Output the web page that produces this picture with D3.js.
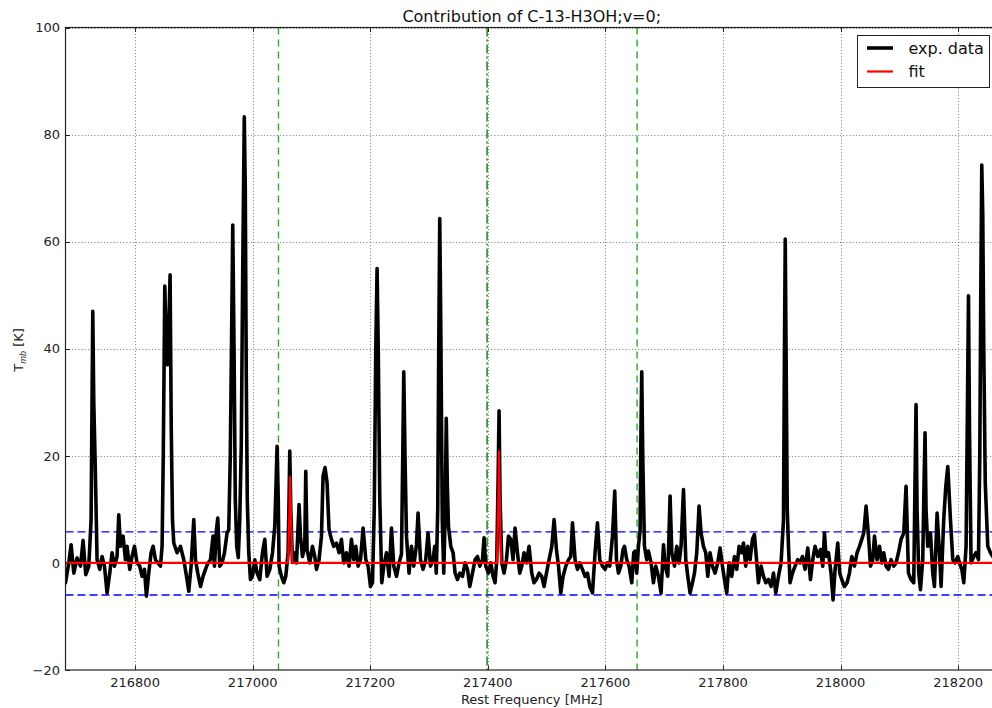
<!DOCTYPE html>
<html>
<head>
<meta charset="utf-8">
<script src="https://cdn.jsdelivr.net/npm/d3@7"></script>
<style>
  html, body { margin: 0; padding: 0; background: #fff; }
  svg { display: block; font-family: "DejaVu Sans", sans-serif; }
</style>
</head>
<body>
<svg id="chart" width="992" height="708"></svg>
<script>
// ---------- data ----------
const title = "Contribution of C-13-H3OH;v=0;";
const xLabel = "Rest Frequency [MHz]";
const xTicks = [216800, 217000, 217200, 217400, 217600, 217800, 218000, 218200];
const yTicks = [-20, 0, 20, 40, 60, 80, 100];
const legendLabels = ["exp. data", "fit"];

const freq = [
216681.6,216687.2,216691.1,216695.7,216701.3,216707.1,216711.5,216716.1,216721.2,216725.1,
216728.0,216729.7,216732.2,216734.0,216735.3,216739.9,216743.8,216747.9,216752.3,216756.9,
216760.8,216764.9,216769.3,216772.2,216775.1,216779.5,216783.6,216786.3,216790.9,216794.8,
216798.9,216803.3,216807.9,216811.8,216815.9,216819.3,216823.2,216827.2,216830.6,216834.6,
216838.5,216843.1,216845.9,216847.9,216850.5,216853.0,216855.1,216857.3,216859.5,216861.5,
216863.6,216865.8,216871.4,216877.2,216882.8,216887.4,216891.3,216895.2,216899.8,216902.7,
216906.6,216911.2,216915.6,216919.7,216923.6,216928.2,216932.6,216935.0,216938.4,216940.6,
216944.0,216947.9,216952.0,216956.4,216959.3,216961.9,216964.4,216966.1,216968.3,216970.4,
216972.9,216975.5,216978.0,216980.6,216983.1,216985.7,216987.4,216989.1,216990.8,216993.3,
216996.2,216999.6,217003.6,217007.5,217012.1,217016.6,217020.6,217024.5,217029.1,217033.7,
217037.6,217039.8,217041.5,217043.5,217044.9,217049.0,217052.9,217056.3,217060.2,217061.9,
217063.1,217064.8,217067.7,217071.6,217074.5,217078.9,217081.3,217084.7,217088.6,217090.3,
217092.5,217097.1,217101.7,217105.6,217108.5,217112.9,217117.0,217119.7,217123.1,217126.5,
217129.9,217134.0,217137.9,217142.5,217147.0,217151.0,217154.9,217159.5,217164.0,217168.0,
217172.0,217175.4,217179.3,217183.4,217187.8,217192.4,217196.3,217200.4,217203.8,217206.8,
217209.4,217211.6,217213.6,217216.2,217219.6,217223.0,217227.6,217232.0,217236.1,217240.0,
217244.6,217249.0,217253.1,217255.3,217257.0,217259.1,217261.6,217266.0,217270.1,217274.0,
217278.6,217281.3,217285.4,217289.8,217294.4,217298.3,217302.4,217306.8,217309.7,217312.3,
217314.8,217316.5,217318.2,217319.9,217322.5,217325.0,217327.6,217329.3,217331.0,217333.0,
217337.0,217340.9,217344.3,217348.4,217352.3,217356.9,217361.3,217365.4,217369.3,217373.9,
217378.3,217382.4,217386.3,217390.9,217393.6,217396.5,217401.1,217405.0,217408.9,217412.3,
217415.2,217417.4,217419.1,217420.8,217423.7,217427.6,217431.7,217435.1,217439.0,217442.9,
217446.3,217450.4,217454.3,217457.7,217461.6,217465.7,217470.1,217474.7,217478.6,217482.7,
217487.2,217491.7,217495.7,217499.7,217504.2,217508.8,217512.7,217516.7,217520.2,217524.1,
217528.0,217532.6,217537.2,217541.1,217544.0,217548.4,217552.5,217556.4,217561.0,217565.4,
217569.5,217573.4,217578.0,217582.4,217586.5,217590.4,217595.0,217599.4,217603.5,217607.4,
217612.0,217615.9,217618.8,217622.2,217626.1,217630.0,217632.4,217636.3,217640.2,217644.8,
217648.2,217650.4,217653.3,217656.2,217659.0,217660.5,217661.8,217663.5,217666.4,217670.3,
217673.2,217677.7,217681.7,217685.7,217690.2,217694.7,217698.8,217701.5,217706.1,217710.0,
217712.9,217717.5,217721.4,217725.3,217728.7,217732.8,217736.7,217740.1,217744.0,217748.1,
217751.5,217755.4,217759.3,217762.7,217766.8,217770.7,217774.1,217778.0,217782.1,217786.5,
217791.1,217795.0,217799.1,217802.5,217806.4,217810.3,217814.9,217819.5,217823.4,217827.3,
217831.9,217834.8,217838.7,217842.1,217846.1,217850.1,217853.5,217857.5,217860.3,217864.8,
217868.9,217872.8,217877.4,217881.8,217885.9,217889.8,217894.4,217898.8,217902.9,217904.6,
217905.9,217907.6,217909.3,217911.4,217914.1,217918.2,217922.6,217927.2,217931.1,217935.2,
217939.6,217944.2,217948.8,217952.7,217956.6,217961.2,217965.8,217969.7,217972.6,217975.3,
217979.4,217983.8,217987.2,217990.7,217995.2,217998.6,218002.0,218006.6,218011.1,218015.1,
218019.1,218023.6,218028.1,218032.2,218036.1,218039.5,218043.4,218047.5,218050.9,218054.8,
218057.7,218062.1,218066.2,218070.1,218073.5,218077.4,218081.5,218085.9,218090.5,218094.4,
218098.5,218102.9,218107.5,218111.4,218115.5,218119.9,218124.5,218126.6,218128.4,218130.1,
218133.0,218135.9,218139.8,218142.0,218143.7,218145.4,218148.3,218152.9,218156.8,218159.7,
218164.2,218168.2,218171.0,218175.5,218179.0,218182.4,218186.9,218190.9,218194.8,218199.4,
218202.3,218206.2,218209.6,218213.5,218215.9,218217.6,218219.3,218222.0,218226.6,218230.5,
218234.6,218236.8,218238.5,218240.2,218241.9,218243.6,218246.1,218250.4,218255.0,218258.9,
218264.0
];
const tmb = [
-3.7,0,3.4,-1.9,0.9,-0.6,4.2,-2.2,-0.6,8,
47,30,18,8,0.6,-1.2,1.2,-0.6,-5.6,-1.9,
1.9,-0.6,1.2,9.0,3.1,5,0.6,3.1,-1.2,1.2,
3.1,0,-0.6,-2.5,-1.2,-6.2,-1.9,1.9,3.1,0.6,
0,-0.6,3.1,20,51.7,40,37,44,53.8,25,
8,3.7,1.9,3.1,0.6,-2.5,-5.3,-0.6,8.1,0.6,
-1.9,-4.4,-2.5,-1.2,-0.1,0.6,5,-0.6,6.2,8.4,
-0.6,0,1.9,5.6,6.2,20,45,63.1,40,12,
3,1,8,22,55,83.3,70,35,12,2,
-3.1,-2.5,0.6,-1.9,-3.1,1.9,4.4,-2.5,-1.2,1.9,
6.9,15,21.8,12,-0.6,-2.5,-3.7,-2.5,1.9,12,
20.9,10,0.1,1.9,0,10.9,5,1.2,3.1,17.1,
2.5,0,3.1,1.2,-1.2,0.6,5,16.2,17.8,15,
6.2,4.4,3.1,3.7,1.9,4.4,0,1.9,-0.6,4.4,
0.6,3.1,-0.6,0.6,6.5,0.6,-0.6,-4.4,-3.7,10,
40,55,40,12,-3.7,-0.6,1.9,-2.5,6.5,-0.6,
-2.5,0,1.6,20,35.7,20,5,-1.9,3.1,-0.6,
3.4,9.3,0.6,-1.2,0.6,5.6,-0.6,0.6,3.1,-1.9,
10,40,64.3,45,8,-1.9,10,27,15,6.9,
3.1,1.9,-1.9,-3.1,-1.9,-2.5,0,-1.2,-4.4,-1.9,
0.6,1.2,-0.6,0.6,4.7,-0.6,-1.9,0,-2.5,-3.7,
0.6,15,28.4,12,0,-1.9,0.6,5,4.4,0.6,
6.5,1.9,-1.9,-0.6,1.9,0,3.1,-1.9,-3.7,-3.1,
-1.9,-2.5,-4.4,-1.9,0.6,3.1,8.1,2.5,-0.6,-5.6,
-2.5,-0.6,0.6,1.2,7.5,0.6,-1.2,0,-1.2,-2.5,
-1.9,-4.4,-5.6,1.9,7.5,0.6,-0.6,-1.2,0,-0.6,
5,13.4,0.6,-1.9,-0.6,2.5,3.1,0.6,-0.6,-3.7,
1.9,2.2,-1.9,3.1,6,25,35.7,20,3.1,0.6,
2.2,0,-3.7,-0.6,-2.5,-5.6,3.4,-0.6,-2.5,12.5,
1.9,-0.6,3.1,0,3.1,13.7,0.6,-2.5,-5.6,-3.7,
-1.9,1.9,10.6,5.6,3.1,1.9,-2.5,1.9,-0.6,-1.9,
0,2.8,-0.6,-3.1,-5.6,0,-2.5,1.2,-1.2,3.1,
1.9,3.7,-0.6,3.1,0.6,4.4,5.3,0,-3.7,-0.6,
-2.5,-3.7,-3.1,-4.4,-1.9,-5.6,-2.5,0,8,40,
60.5,35,10,3.1,-3.7,-1.9,-0.6,0.6,0,1.2,
-1.2,2.8,-3.1,0.6,3.1,1.2,2.5,-0.6,5.6,1.2,
1.9,-1.9,-6.9,-1.2,3.7,-1.9,-3.1,-4.4,-3.7,-1.9,
1.2,-0.6,1.9,3.1,4.4,5.6,10.6,5,-0.6,0.6,
5,0.6,3.1,0,1.9,-0.6,-1.2,0.6,-0.6,0,
1.9,4.4,5.6,14.3,-1.9,-3.1,-3.7,15,29.6,10,
-1.9,-5,0.6,15,24.3,10,3.1,5.6,-1.9,-4.4,
9.3,1.9,-4.4,8.1,14.3,18,8.1,0.6,0,1.2,
0,-1.2,-3.7,3.1,30,49.9,25,0,1.2,1.9,
0.6,20,50,74.3,65,40,15,3.1,1.9,1.2,
0.5
];

const fitFreq = [216681.6, 217060.2, 217062.2, 217063.8, 217065.5, 217067.5,
                 217415.5, 217417.5, 217419.1, 217420.8, 217422.8, 218267.8];
const fitTmb  = [0, 0, 8, 16.1, 8, 0, 0, 9, 20.9, 9, 0, 0];

const hLevels = [5.8, -6.0];                        // blue dashed levels
const vMarkers = [217043.9, 217398.7, 217653.9];    // green markers
const vStyles = ["dash", "dashdot", "dash"];

// ---------- layout ----------
const L = 65.5, R = 998, T = 27.5, B = 670;
const svg = d3.select("#chart");
svg.append("rect").attr("width", 992).attr("height", 708).attr("fill", "#fff");

const x = d3.scaleLinear().domain([216681.6, 218267.8]).range([L, R]);
const y = d3.scaleLinear().domain([-20, 100]).range([B, T]);
const snap = v => Math.round(v) + 0.5;

const defs = svg.append("defs");
defs.append("clipPath").attr("id", "clip")
  .append("rect").attr("x", L).attr("y", T).attr("width", R - L).attr("height", B - T);

const plot = svg.append("g").attr("clip-path", "url(#clip)");

// grid
plot.selectAll(".gx").data(xTicks).enter().append("line")
  .attr("x1", d => snap(x(d))).attr("x2", d => snap(x(d)))
  .attr("y1", T).attr("y2", B)
  .attr("stroke", "#555").attr("stroke-width", 0.8).attr("stroke-dasharray", "1,2.2");
plot.selectAll(".gy").data(yTicks).enter().append("line")
  .attr("y1", d => snap(y(d))).attr("y2", d => snap(y(d)))
  .attr("x1", L).attr("x2", R)
  .attr("stroke", "#555").attr("stroke-width", 0.8).attr("stroke-dasharray", "1,2.2");

// blue dashed levels
plot.selectAll(".hl").data(hLevels).enter().append("line")
  .attr("x1", L).attr("x2", R)
  .attr("y1", d => y(d)).attr("y2", d => y(d))
  .attr("stroke", "#0000ff").attr("stroke-width", 1.4).attr("stroke-dasharray", "8,4");

// green markers
plot.selectAll(".vl").data(vMarkers).enter().append("line")
  .attr("x1", d => x(d)).attr("x2", d => x(d))
  .attr("y1", T).attr("y2", B)
  .attr("stroke", (d, i) => vStyles[i] === "dash" ? "#2ea82e" : "#008000")
  .attr("stroke-width", 1.4)
  .attr("stroke-dasharray", (d, i) => vStyles[i] === "dash" ? "7,5" : "9,3,2,3");

// data line
const line = d3.line().x(d => x(d[0])).y(d => y(d[1]));
plot.append("path")
  .datum(freq.map((f, i) => [f, tmb[i]]))
  .attr("d", line)
  .attr("fill", "none").attr("stroke", "#000").attr("stroke-width", 3.6)
  .attr("stroke-linejoin", "round").attr("stroke-linecap", "round");

// fit line
plot.append("path")
  .datum(fitFreq.map((f, i) => [f, fitTmb[i]]))
  .attr("d", line)
  .attr("fill", "none").attr("stroke", "#ff0000").attr("stroke-width", 2.2)
  .attr("stroke-linejoin", "round");

// axes frame
svg.append("rect").attr("x", L).attr("y", T).attr("width", R - L).attr("height", B - T)
  .attr("fill", "none").attr("stroke", "#222").attr("stroke-width", 1.2);

// inner ticks
const tk = 4.5;
xTicks.forEach(t => {
  const px = snap(x(t));
  svg.append("line").attr("x1", px).attr("x2", px).attr("y1", B).attr("y2", B - tk).attr("stroke", "#222");
  svg.append("line").attr("x1", px).attr("x2", px).attr("y1", T).attr("y2", T + tk).attr("stroke", "#222");
});
yTicks.forEach(t => {
  const py = snap(y(t));
  svg.append("line").attr("x1", L).attr("x2", L + tk).attr("y1", py).attr("y2", py).attr("stroke", "#222");
  svg.append("line").attr("x1", R).attr("x2", R - tk).attr("y1", py).attr("y2", py).attr("stroke", "#222");
});

// tick labels
svg.selectAll(".xtl").data(xTicks).enter().append("text")
  .attr("x", d => x(d)).attr("y", 687)
  .attr("text-anchor", "middle").attr("font-size", 13).attr("fill", "#222")
  .text(d => d);
svg.selectAll(".ytl").data(yTicks).enter().append("text")
  .attr("x", 60).attr("y", d => y(d)).attr("dy", "0.36em")
  .attr("text-anchor", "end").attr("font-size", 13).attr("fill", "#222")
  .text(d => d < 0 ? "\u2212" + Math.abs(d) : d);

// axis labels
svg.append("text").attr("x", (L + R) / 2).attr("y", 704)
  .attr("text-anchor", "middle").attr("font-size", 13).attr("fill", "#222").text(xLabel);

const yl = svg.append("text")
  .attr("transform", "translate(23,350) rotate(-90)")
  .attr("text-anchor", "middle").attr("font-size", 13).attr("fill", "#222");
yl.append("tspan").text("T");
yl.append("tspan").attr("font-size", 8).attr("font-style", "italic").attr("dy", 3).text("mb");
yl.append("tspan").attr("dy", -3).text(" [K]");

// title
svg.append("text").attr("x", (L + R) / 2).attr("y", 21.5)
  .attr("text-anchor", "middle").attr("font-size", 16).attr("fill", "#111").text(title);

// legend
const lg = svg.append("g");
lg.append("rect").attr("x", 857.5).attr("y", 35.5).attr("width", 132).attr("height", 52)
  .attr("fill", "#fff").attr("stroke", "#222").attr("stroke-width", 1);
const lgColors = ["#000", "#ff0000"], lgWidths = [3.6, 2.2], lgY = [48, 71.5];
legendLabels.forEach((lab, i) => {
  lg.append("line").attr("x1", 867).attr("x2", 893).attr("y1", lgY[i]).attr("y2", lgY[i])
    .attr("stroke", lgColors[i]).attr("stroke-width", lgWidths[i]);
  lg.append("text").attr("x", 908.5).attr("y", lgY[i]).attr("dy", "0.36em")
    .attr("font-size", 16).attr("fill", "#111").text(lab);
});
</script>
</body>
</html>
